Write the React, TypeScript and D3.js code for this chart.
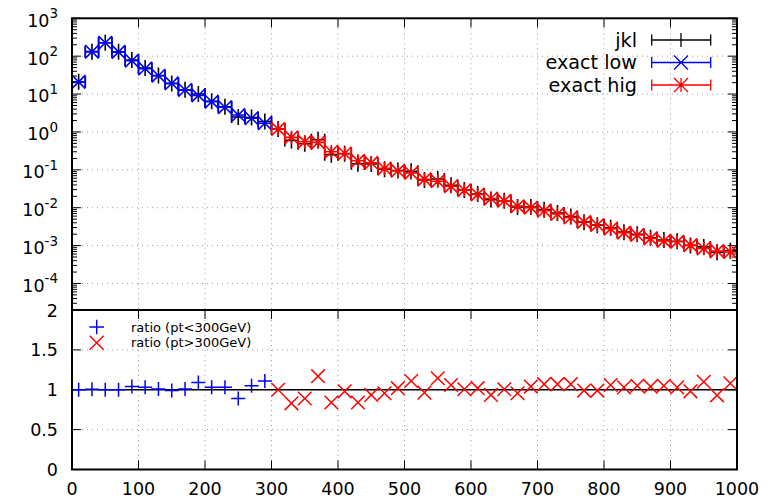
import React from "react";
import * as d3 from "d3";

// ---------- data ----------
const ptLow = [10, 30, 50, 70, 90, 110, 130, 150, 170, 190, 210, 230, 250, 270, 290];
const ptHigh = [310, 330, 350, 370, 390, 410, 430, 450, 470, 490, 510, 530, 550, 570, 590,
  610, 630, 650, 670, 690, 710, 730, 750, 770, 790, 810, 830, 850, 870, 890, 910, 930, 950, 970, 990];
const binHalfWidth = 10;

const exactLow = [21, 131, 226, 130, 76, 47, 30.5, 19.2, 12.8, 9.2, 6.3, 4.5, 2.8, 2.3, 1.7];
const exactHigh = [1.19, 0.72, 0.55, 0.53, 0.30, 0.27, 0.173, 0.153, 0.109, 0.094,
  0.083, 0.056, 0.050, 0.037, 0.029, 0.0224, 0.0175, 0.0152, 0.011, 0.0100,
  0.0083, 0.0068, 0.0055, 0.0042, 0.0035, 0.0028, 0.0022, 0.0019, 0.00155, 0.00133,
  0.00126, 0.00103, 0.00084, 0.00072, 0.00068];

const ratioLow = [1.0, 1.005, 1.0, 1.0, 1.04, 1.03, 1.01, 0.99, 1.01, 1.09, 1.03, 1.03, 0.89, 1.05, 1.11];
const ratioHigh = [1.0, 0.83, 0.89, 1.17, 0.84, 0.98, 0.84, 0.935, 0.956, 1.02,
  1.11, 0.964, 1.144, 1.06, 1.006, 1.02, 0.935, 1.006, 0.956, 1.04,
  1.07, 1.07, 1.07, 0.99, 0.99, 1.06, 1.03, 1.05, 1.04, 1.05,
  1.03, 0.98, 1.10, 0.93, 1.08];

const xTicks = [0, 100, 200, 300, 400, 500, 600, 700, 800, 900, 1000];
const logExponents = [-4, -3, -2, -1, 0, 1, 2, 3];
const ratioTicks = [0, 0.5, 1, 1.5, 2];
const ratioTickLabels = ["0", "0.5", "1", "1.5", "2"];
const legendTop = ["jkl", "exact low", "exact hig"];
const legendBottom = ["ratio (pt<300GeV)", "ratio (pt>300GeV)"];

// ---------- layout ----------
const W = 780, H = 503;
const L = 72, R = 737;
const T1 = 18.3, B1 = 310;
const T2 = 310, B2 = 469.5;
const FONT = "DejaVu Sans, sans-serif";

const x = d3.scaleLinear().domain([0, 1000]).range([L, R]);
const yTop = d3.scaleLog().domain([Math.pow(10, -4.7), 1000]).range([B1, T1]);
const yBot = d3.scaleLinear().domain([0, 2]).range([B2, T2]);

const plus = (cx: number, cy: number, s: number, sv = s) =>
  `M${cx - s},${cy}H${cx + s}M${cx},${cy - sv}V${cy + sv}`;
const cross = (cx: number, cy: number, s: number) =>
  `M${cx - s},${cy - s}L${cx + s},${cy + s}M${cx - s},${cy + s}L${cx + s},${cy - s}`;
const xbar = (x0: number, x1: number, cy: number, c: number) =>
  `M${x0},${cy}H${x1}M${x0},${cy - c}V${cy + c}M${x1},${cy - c}V${cy + c}`;

export default function App() {
  const pts = [...ptLow, ...ptHigh];
  const exact = [...exactLow, ...exactHigh];
  const ratios = [...ratioLow, ...ratioHigh];
  const jkl = exact.map((v, i) => v * ratios[i]);

  // minor log ticks
  const minor: number[] = [];
  for (let k = -5; k <= 2; k++) for (let m = 2; m <= 9; m++) {
    const v = m * Math.pow(10, k);
    if (v >= yTop.domain()[0] && v <= 1000) minor.push(v);
  }

  const markerPath = (kind: string, cx: number, cy: number) => {
    const x0 = cx - (x(binHalfWidth) - x(0));
    const x1 = cx + (x(binHalfWidth) - x(0));
    if (kind === "jkl") return xbar(x0, x1, cy, 6) + plus(cx, cy, 7, 8);
    if (kind === "low") return xbar(x0, x1, cy, 6) + cross(cx, cy, 6.7);
    return xbar(x0, x1, cy, 6) + cross(cx, cy, 6.7) + plus(cx, cy, 6.7);
  };

  const grid = "#a0a0a0";

  return (
    <svg width={W} height={H} style={{ position: "absolute", left: 0, top: 0, background: "#fff" }}
      fontFamily={FONT}>
      <rect x={0} y={0} width={W} height={H} fill="#fff" />
      {/* grid */}
      <g stroke={grid} strokeWidth={1} strokeDasharray="1,4">
        {logExponents.filter(e => e < 3).map(e => (
          <line key={"gt" + e} x1={L} x2={R} y1={yTop(Math.pow(10, e))} y2={yTop(Math.pow(10, e))} />
        ))}
        {xTicks.filter(t => t > 0 && t < 1000).map(t => (
          <line key={"gv" + t} x1={x(t)} x2={x(t)} y1={T1} y2={B1} />
        ))}
        {ratioTicks.filter(t => t > 0 && t < 2).map(t => (
          <line key={"gb" + t} x1={L} x2={R} y1={yBot(t)} y2={yBot(t)} />
        ))}
        {xTicks.filter(t => t > 0 && t < 1000).map(t => (
          <line key={"gvb" + t} x1={x(t)} x2={x(t)} y1={T2} y2={B2} />
        ))}
      </g>

      {/* ticks */}
      <g stroke="#000" strokeWidth={1}>
        {logExponents.map(e => {
          const yy = yTop(Math.pow(10, e));
          return <g key={"mt" + e}>
            <line x1={L} x2={L + 9} y1={yy} y2={yy} />
            <line x1={R} x2={R - 9} y1={yy} y2={yy} />
          </g>;
        })}
        {minor.map((v, i) => {
          const yy = yTop(v);
          return <g key={"mn" + i}>
            <line x1={L} x2={L + 5} y1={yy} y2={yy} />
            <line x1={R} x2={R - 5} y1={yy} y2={yy} />
          </g>;
        })}
        {xTicks.map(t => (
          <g key={"xt" + t}>
            <line x1={x(t)} x2={x(t)} y1={T1} y2={T1 + 9} />
            <line x1={x(t)} x2={x(t)} y1={T2} y2={T2 + 9} />
            <line x1={x(t)} x2={x(t)} y1={B2} y2={B2 - 9} />
          </g>
        ))}
        {ratioTicks.map(t => (
          <g key={"rt" + t}>
            <line x1={L} x2={L + 9} y1={yBot(t)} y2={yBot(t)} />
            <line x1={R} x2={R - 9} y1={yBot(t)} y2={yBot(t)} />
          </g>
        ))}
      </g>

      {/* ratio = 1 line */}
      <line x1={L} x2={R} y1={yBot(1)} y2={yBot(1)} stroke="#000" strokeWidth={1.5} />

      {/* top panel data */}
      <g fill="none" strokeWidth={1.6}>
        {pts.map((p, i) => (
          <path key={"j" + i} d={markerPath("jkl", x(p), yTop(jkl[i]))} stroke="#000" />
        ))}
        {ptLow.map((p, i) => (
          <path key={"l" + i} d={markerPath("low", x(p), yTop(exactLow[i]))} stroke="#0000ff" />
        ))}
        {ptHigh.map((p, i) => (
          <path key={"h" + i} d={markerPath("high", x(p), yTop(exactHigh[i]))} stroke="#ff0000" />
        ))}
      </g>

      {/* bottom panel data */}
      <g fill="none" strokeWidth={1.5}>
        {ptLow.map((p, i) => (
          <path key={"rl" + i} d={plus(x(p), yBot(ratioLow[i]), 7)} stroke="#0000ff" />
        ))}
        {ptHigh.map((p, i) => (
          <path key={"rh" + i} d={cross(x(p), yBot(ratioHigh[i]), 6.8)} stroke="#ff0000" />
        ))}
      </g>

      {/* borders */}
      <rect x={L} y={T1} width={R - L} height={B1 - T1} fill="none" stroke="#000" strokeWidth={2} />
      <rect x={L} y={T2} width={R - L} height={B2 - T2} fill="none" stroke="#000" strokeWidth={2} />

      {/* labels */}
      <g fontSize={17.5} fill="#000">
        {logExponents.map(e => (
          <text key={"yl" + e} x={58} y={yTop(Math.pow(10, e)) + 8.4} textAnchor="end">
            10<tspan fontSize={13.5} dy={-8.4}>{e}</tspan>
          </text>
        ))}
        {ratioTicks.map((t, i) => (
          <text key={"rl" + t} x={58} y={yBot(t) + 6.5} textAnchor="end">{ratioTickLabels[i]}</text>
        ))}
        {xTicks.map(t => (
          <text key={"xl" + t} x={x(t)} y={495} textAnchor="middle">{t}</text>
        ))}
      </g>

      {/* top legend */}
      <g fontSize={19.2}>
        {legendTop.map((lab, i) => {
          const cy = 40 + i * 22.5;
          const col = ["#000", "#0000ff", "#ff0000"][i];
          const cx = 681;
          const mk = i === 0 ? plus(cx, cy, 7) : i === 1 ? cross(cx, cy, 7) : cross(cx, cy, 7) + plus(cx, cy, 7);
          return <g key={"lg" + i}>
            <text x={637} y={cy + 6.8} textAnchor="end">{lab}</text>
            <path d={xbar(651.7, 710.7, cy, 5.5) + mk} stroke={col} strokeWidth={1.3} fill="none" />
          </g>;
        })}
      </g>

      {/* bottom legend */}
      <g fontSize={13}>
        {legendBottom.map((lab, i) => {
          const cy = 327 + i * 15.7;
          const mk = i === 0 ? plus(96.7, cy, 7.3) : cross(96.7, cy, 7);
          return <g key={"lb" + i}>
            <text x={131} y={cy + 4.7}>{lab}</text>
            <path d={mk} stroke={i === 0 ? "#0000ff" : "#ff0000"} strokeWidth={1.4} fill="none" />
          </g>;
        })}
      </g>
    </svg>
  );
}
